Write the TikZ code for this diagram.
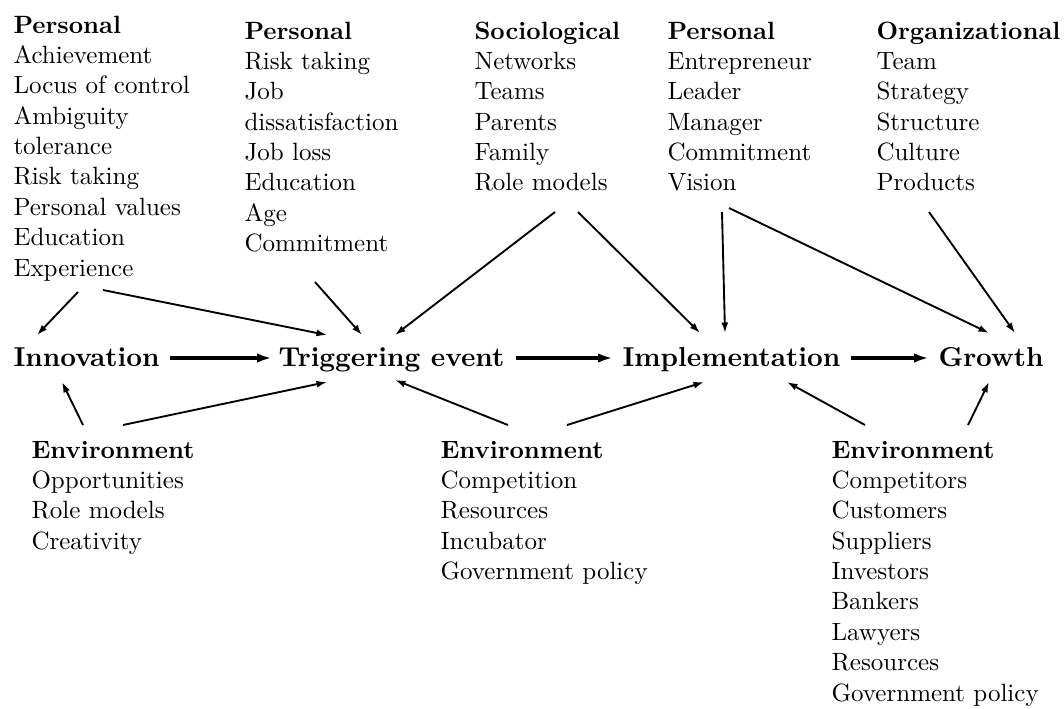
\documentclass[tikz,border=0pt]{standalone}
\usetikzlibrary{arrows.meta,calc}
\begin{document}
\begin{tikzpicture}[x=0.4pt,y=-0.4pt,
  blk/.style={anchor=base west, inner sep=0pt, font=\fontsize{10}{12.15}\selectfont},
  mainlbl/.style={anchor=base west, inner sep=0pt, font=\fontsize{10.95}{13}\selectfont\bfseries},
  conn/.style={-{Latex[length=4.2pt,width=2.8pt]}, line width=0.75pt},
  mainconn/.style={-{Latex[length=6pt,width=3.8pt]}, line width=1.3pt}]
\useasboundingbox (0,0) rectangle (1064,708);

% main stages
\node[mainlbl] (inn)  at (13,366)  {Innovation};
\node[mainlbl] (trig) at (278,366) {Triggering event};
\node[mainlbl] (impl) at (622,366) {Implementation};
\node[mainlbl] (grow) at (938,366) {Growth};

% factor blocks
\node[blk] (p1) at (13,33) {\begin{tabular}[t]{@{}l@{}}\textbf{Personal}\\Achievement\\Locus of control\\Ambiguity\\tolerance\\Risk taking\\Personal values\\Education\\Experience\end{tabular}};
\node[blk] (p2) at (244,39) {\begin{tabular}[t]{@{}l@{}}\textbf{Personal}\\Risk taking\\Job\\dissatisfaction\\Job loss\\Education\\Age\\Commitment\end{tabular}};
\node[blk] (soc) at (474,39) {\begin{tabular}[t]{@{}l@{}}\textbf{Sociological}\\Networks\\Teams\\Parents\\Family\\Role models\end{tabular}};
\node[blk] (p4) at (667,39) {\begin{tabular}[t]{@{}l@{}}\textbf{Personal}\\Entrepreneur\\Leader\\Manager\\Commitment\\Vision\end{tabular}};
\node[blk] (org) at (876,39) {\begin{tabular}[t]{@{}l@{}}\textbf{Organizational}\\Team\\Strategy\\Structure\\Culture\\Products\end{tabular}};
\node[blk] (e1) at (31,458) {\begin{tabular}[t]{@{}l@{}}\textbf{Environment}\\Opportunities\\Role models\\Creativity\end{tabular}};
\node[blk] (e2) at (440,458) {\begin{tabular}[t]{@{}l@{}}\textbf{Environment}\\Competition\\Resources\\Incubator\\Government policy\end{tabular}};
\node[blk] (e3) at (831,458) {\begin{tabular}[t]{@{}l@{}}\textbf{Environment}\\Competitors\\Customers\\Suppliers\\Investors\\Bankers\\Lawyers\\Resources\\Government policy\end{tabular}};

% main flow
\draw[mainconn] ($(inn.base west)+(157,-8)$)  -- ($(trig.base west)+(-6,-8)$);
\draw[mainconn] ($(trig.base west)+(238,-8)$) -- ($(impl.base west)+(-9,-8)$);
\draw[mainconn] ($(impl.base west)+(229,-8)$) -- ($(grow.base west)+(-9,-8)$);

% influences from above
\draw[conn] ($(p1.base west)+(65,259)$)  -- ($(inn.base west)+(24,-31)$);
\draw[conn] ($(p1.base west)+(90,257)$)  -- ($(trig.base west)+(49,-31)$);
\draw[conn] ($(p2.base west)+(71,243)$)  -- ($(trig.base west)+(84,-31)$);
\draw[conn] ($(soc.base west)+(81,173)$) -- ($(trig.base west)+(117,-31)$);
\draw[conn] ($(soc.base west)+(104,173)$) -- ($(impl.base west)+(78,-33)$);
\draw[conn] ($(p4.base west)+(55,173)$)  -- ($(impl.base west)+(103,-33)$);
\draw[conn] ($(p4.base west)+(62,169)$)  -- ($(grow.base west)+(51,-33)$);
\draw[conn] ($(org.base west)+(53,173)$) -- ($(grow.base west)+(77,-33)$);

% influences from below
\draw[conn] ($(e1.base west)+(52,-33)$)  -- ($(inn.base west)+(49,16)$);
\draw[conn] ($(e1.base west)+(92,-33)$)  -- ($(trig.base west)+(49,16)$);
\draw[conn] ($(e2.base west)+(68,-33)$)  -- ($(trig.base west)+(117,14)$);
\draw[conn] ($(e2.base west)+(127,-33)$) -- ($(impl.base west)+(82,16)$);
\draw[conn] ($(e3.base west)+(34,-33)$)  -- ($(impl.base west)+(165,16)$);
\draw[conn] ($(e3.base west)+(137,-33)$) -- ($(grow.base west)+(51,16)$);
\end{tikzpicture}
\end{document}
